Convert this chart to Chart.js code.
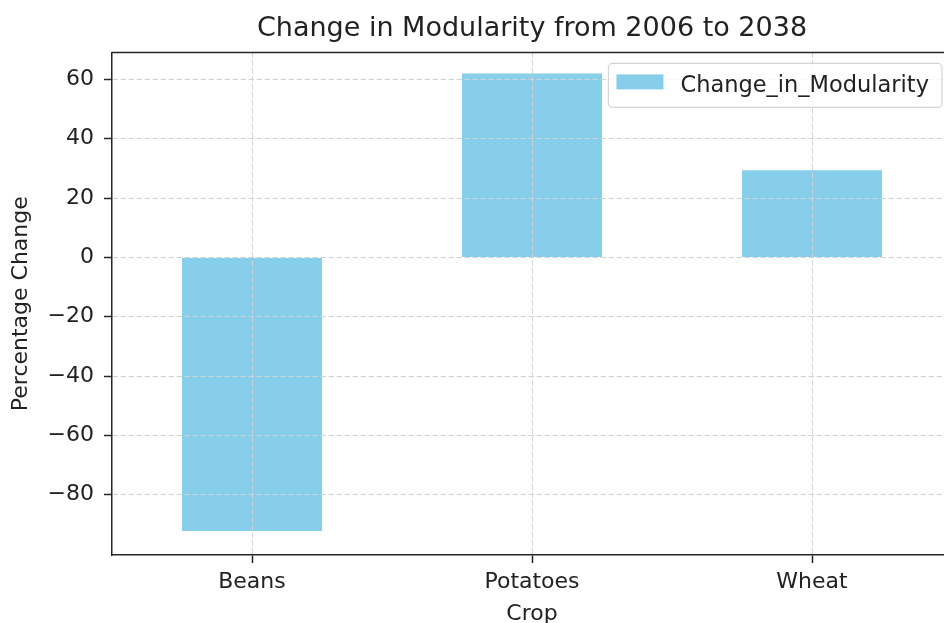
<!DOCTYPE html>
<html>
<head>
<meta charset="utf-8">
<script src="https://cdn.jsdelivr.net/npm/chart.js@4"></script>
<style>
  html, body { margin: 0; padding: 0; background: #fff; overflow: hidden; }
  #wrap { position: relative; width: 944px; height: 623px; overflow: hidden; }
  #wrap canvas { position: absolute; left: 0; top: 0; }
</style>
</head>
<body>
<div id="wrap"><canvas id="result-chart" width="960" height="640"></canvas></div>
<script>
const crops = ["Beans", "Potatoes", "Wheat"];
const change_in_modularity = [-92.2, 62.0, 29.4];
const y_ticks = [-80, -60, -40, -20, 0, 20, 40, 60];
const series_label = "Change_in_Modularity";
const chart_title = "Change in Modularity from 2006 to 2038";
const x_title = "Crop";
const y_title = "Percentage Change";

const FONT = "'DejaVu Sans', sans-serif";
const TEXT_COLOR = "#222";
const GRID_COLOR = "#d2d2d2";
const AXIS_COLOR = "#262626";

// top spine (left/bottom come from the scale borders, the right one is off the page)
const frame = {
  id: "frame",
  afterDraw(chart) {
    const { ctx, chartArea } = chart;
    ctx.save();
    ctx.strokeStyle = AXIS_COLOR;
    ctx.lineWidth = 1.5;
    ctx.beginPath();
    ctx.moveTo(chartArea.left, chartArea.top);
    ctx.lineTo(chartArea.right, chartArea.top);
    ctx.stroke();
    ctx.restore();
  },
};

// matplotlib-like legend box in the upper right corner
const legend_box = {
  id: "legend_box",
  afterDraw(chart) {
    const { ctx, chartArea } = chart;
    const ds = chart.data.datasets[0];
    ctx.save();
    ctx.font = `22.5px ${FONT}`;
    const text_w = ctx.measureText(ds.label).width;
    const w = 72 + text_w + 13;
    const h = 44;
    const right = chartArea.right - 10;
    const top = chartArea.top + 11;
    const left = right - w;
    ctx.beginPath();
    ctx.roundRect(left, top, w, h, 4);
    ctx.fillStyle = "rgba(255,255,255,0.8)";
    ctx.fill();
    ctx.strokeStyle = "#d4d4d4";
    ctx.lineWidth = 1.2;
    ctx.stroke();
    ctx.fillStyle = ds.backgroundColor;
    ctx.fillRect(left + 8, top + 11, 47, 15);
    ctx.fillStyle = TEXT_COLOR;
    ctx.textBaseline = "middle";
    ctx.fillText(ds.label, left + 72, top + h / 2 + 1);
    ctx.restore();
  },
};

const grid_opts = {
  color: GRID_COLOR,
  lineWidth: 1,
  z: 1,
  drawTicks: true,
  tickLength: 8,
  tickColor: AXIS_COLOR,
  tickWidth: 1.5,
  tickBorderDash: [],
};

const border_opts = {
  display: true,
  color: AXIS_COLOR,
  width: 1.5,
  dash: [5.5, 2.5],
  z: 1,
};

const config = {
  type: "bar",
  data: {
    labels: crops,
    datasets: [
      {
        label: series_label,
        data: change_in_modularity,
        backgroundColor: "#87ceeb",
        borderWidth: 0,
        barPercentage: 0.5,
        categoryPercentage: 1.0,
      },
    ],
  },
  options: {
    responsive: false,
    animation: false,
    devicePixelRatio: 1,
    layout: { padding: { left: 0, right: 8, top: 0, bottom: 0 } },
    plugins: {
      legend: { display: false },
      tooltip: { enabled: false },
      title: {
        display: true,
        text: chart_title,
        fullSize: false,
        color: TEXT_COLOR,
        font: { family: FONT, size: 27, weight: "normal" },
        padding: { top: 13, bottom: 7 },
      },
    },
    scales: {
      x: {
        offset: true,
        grid: { ...grid_opts, offset: false },
        border: border_opts,
        ticks: {
          color: TEXT_COLOR,
          font: { family: FONT, size: 22 },
          padding: 6,
          maxRotation: 0,
        },
        title: {
          display: true,
          text: x_title,
          color: TEXT_COLOR,
          font: { family: FONT, size: 22 },
          padding: { top: 0, bottom: 13 },
        },
        afterFit: (scale) => {
          scale.height = 85;
        },
      },
      y: {
        min: -100.3,
        max: 69.1,
        grid: grid_opts,
        border: border_opts,
        afterBuildTicks: (scale) => {
          scale.ticks = y_ticks.map((v) => ({ value: v }));
        },
        ticks: {
          color: TEXT_COLOR,
          font: { family: FONT, size: 22 },
          padding: 10,
          callback: (v) => (v < 0 ? "\u2212" + Math.abs(v) : String(v)),
        },
        title: {
          display: true,
          text: y_title,
          color: TEXT_COLOR,
          font: { family: FONT, size: 22 },
          padding: { top: 8, bottom: 0 },
        },
        afterFit: (scale) => {
          scale.width = 112;
        },
      },
    },
  },
  plugins: [frame, legend_box],
};

const resultChart = new Chart(document.getElementById("result-chart"), config);
</script>
</body>
</html>
